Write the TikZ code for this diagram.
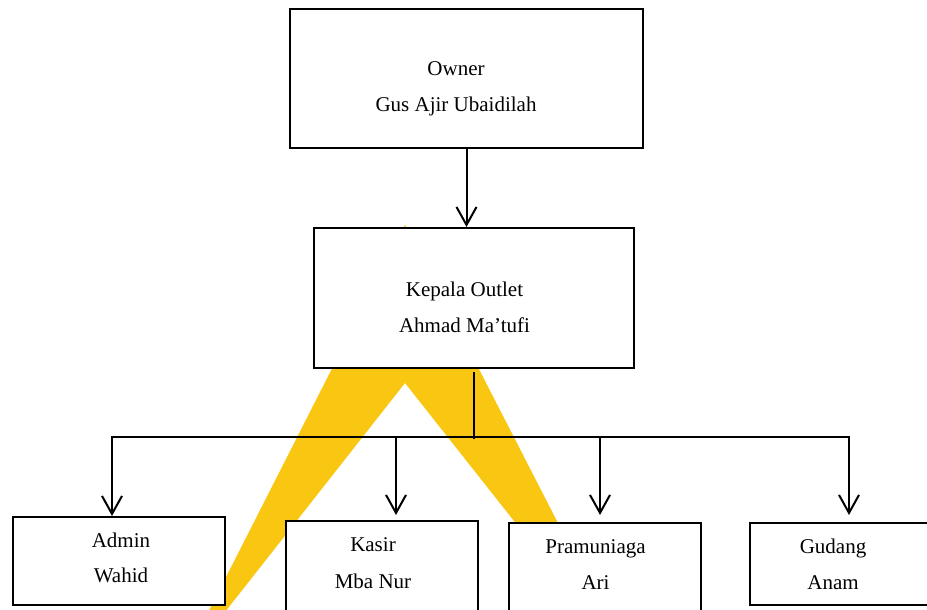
\documentclass[tikz,border=0pt]{standalone}
\usepackage{fontspec}
\setmainfont{Liberation Serif}
\usetikzlibrary{arrows.meta}
\definecolor{logo}{RGB}{249,199,17}
\tikzset{
  box/.style={draw, line width=1pt, fill=white, inner sep=0pt},
  lbl/.style={anchor=base, inner sep=0pt, font=\fontsize{10.5pt}{12pt}\selectfont},
  conn/.style={line width=1pt},
  arr/.style={conn, -{Straight Barb[length=9pt,width=10pt]}},
  arrb/.style={conn, {Straight Barb[length=9pt,width=10pt]}-{Straight Barb[length=9pt,width=10pt]}}
}
\begin{document}
\begin{tikzpicture}[x=0.5pt,y=-0.5pt]
\useasboundingbox (0,0) rectangle (927,610);
\clip (0,0) rectangle (927,610);
\fill[white] (0,0) rectangle (927,610);
% background logo shape
\fill[logo] (405,225) -- (194,640) -- (203,640) -- (405,383) -- (608,640) -- (618,640) -- cycle;
% boxes
\node[box, minimum width=176.5pt, minimum height=69.5pt] (owner) at (466.5,78.5) {};
\node[box, minimum width=160pt, minimum height=70pt] (kepala) at (474,298) {};
\node[box, minimum width=106pt, minimum height=44pt] (admin) at (119,561) {};
\node[box, minimum width=96pt, minimum height=59.5pt] (kasir) at (382,580.5) {};
\node[box, minimum width=96pt, minimum height=58.5pt] (pram) at (605,581.5) {};
\node[box, minimum width=95pt, minimum height=41pt] (gudang) at (845,564) {};
% texts
\node[lbl] (ownerA) at (456,76) {Owner};
\node[lbl] (ownerB) at (456,112) {Gus Ajir Ubaidilah};
\node[lbl] (kepalaA) at (464.5,296) {Kepala Outlet};
\node[lbl] (kepalaB) at (464.5,332) {Ahmad Ma’tufi};
\node[lbl] (adminA) at (121,547) {Admin};
\node[lbl] (adminB) at (121,582) {Wahid};
\node[lbl] (kasirA) at (373,551) {Kasir};
\node[lbl] (kasirB) at (373,588) {Mba Nur};
\node[lbl] (pramA) at (595.5,553) {Pramuniaga};
\node[lbl] (pramB) at (595.5,589) {Ari};
\node[lbl] (gudangA) at (833,553) {Gudang};
\node[lbl] (gudangB) at (833,589) {Anam};
% connectors
\draw[arr] (owner.south) -- (owner.south |- kepala.north);
\coordinate (tTop) at (474,372);
\coordinate (tBot) at (474,439);
\draw[line width=0.8pt] (tTop) -- (tBot);
\coordinate (bL) at (112,437);
\coordinate (bR) at (849,437);
\coordinate (bK) at (396,437);
\coordinate (bP) at (600,437);
\draw[arrb, shorten >=3.5pt] (bL |- admin.north) -- (bL) -- (bR) -- (bR |- gudang.north);
\draw[arr, shorten >=2.5pt] (bK) -- (bK |- kasir.north);
\draw[arr, shorten >=3.5pt] (bP) -- (bP |- pram.north);
\end{tikzpicture}
\end{document}
